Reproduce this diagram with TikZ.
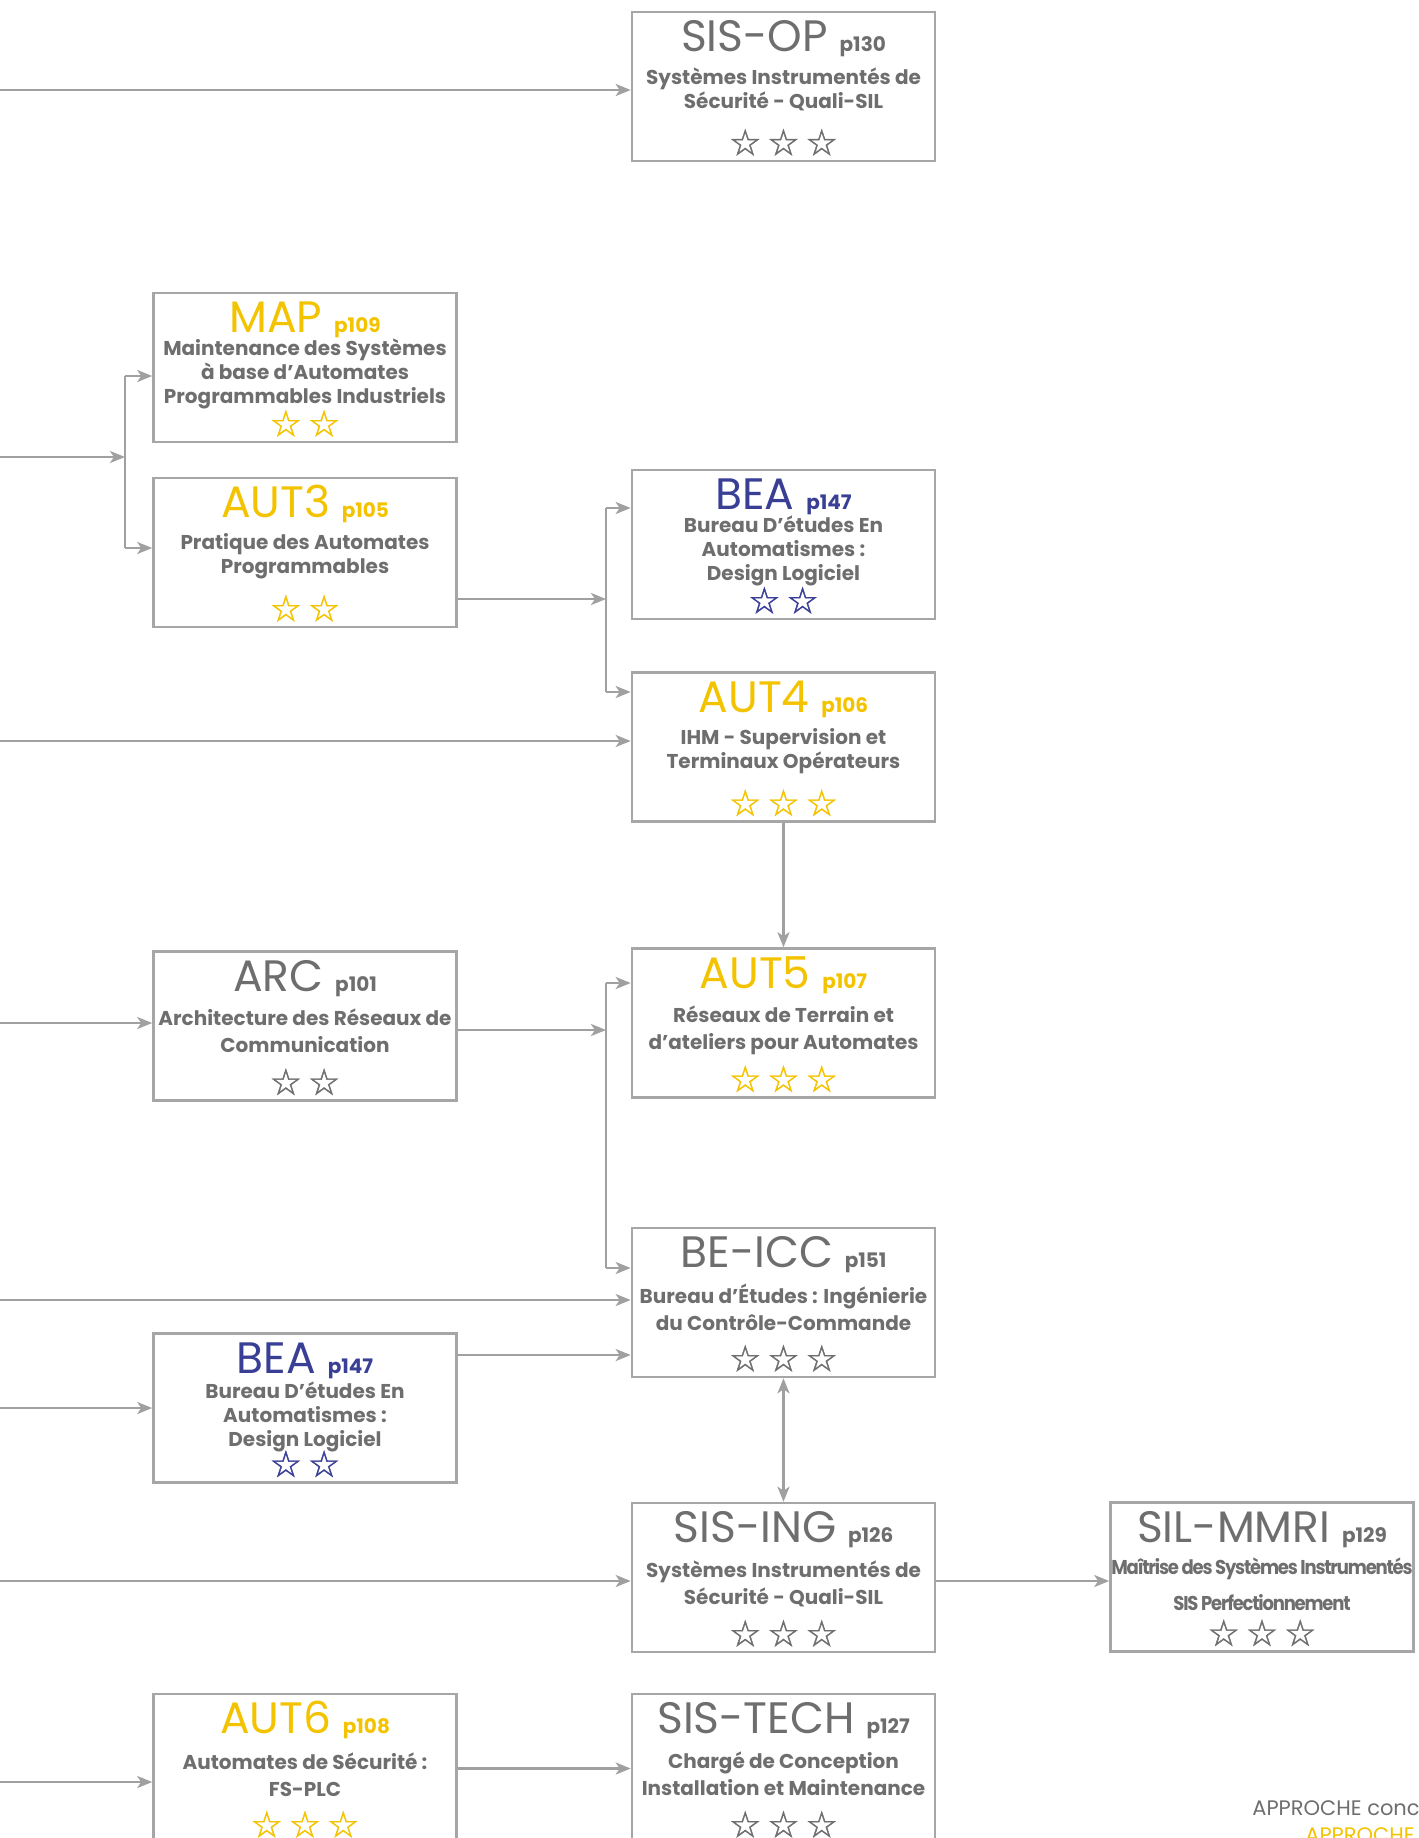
\documentclass[tikz,border=0pt]{standalone}
\usepackage{fontspec}
\setmainfont{Poppins}
\newfontfamily\symfont[FakeBold=1.2]{DejaVu Sans}
\usetikzlibrary{arrows.meta}

\definecolor{boxgray}{HTML}{A6A6A6}
\definecolor{txtgray}{HTML}{6E6E6E}
\definecolor{arrgray}{HTML}{A0A0A0}
\definecolor{formyellow}{HTML}{F4C300}
\definecolor{formblue}{HTML}{3A3F96}

\tikzset{
  box/.style={draw=boxgray, line width=1.3pt, minimum width=151.5pt, minimum height=74.5pt, inner sep=0pt},
  code/.style={font=\fontsize{22}{22}\selectfont, inner sep=0pt, anchor=base},
  desc/.style={font=\bfseries\fontsize{10}{12}\selectfont, text=txtgray, align=center, inner sep=0pt},
  starrow/.style={font=\symfont\fontsize{18}{18}\selectfont, inner sep=0pt},
  link/.style={draw=arrgray, line width=1.3pt},
  arr/.style={link, -{Stealth[length=7.5pt,width=6pt,inset=2pt]}},
  arrboth/.style={link, {Stealth[length=7.5pt,width=6pt,inset=2pt]}-{Stealth[length=7.5pt,width=6pt,inset=2pt]}},
}

\newcommand{\pg}[1]{{\bfseries\fontsize{10}{10}\selectfont #1}}
\newcommand{\twostars}{☆\hspace{3pt}☆}
\newcommand{\threestars}{☆\hspace{3pt}☆\hspace{3pt}☆}

% #1 name, #2 centre, #3 colour, #4 code, #5 page, #6 text, #7 stars, #8 shift of the text
\newcommand{\module}[8]{
  \node[box] (#1) at (#2) {};
  \node[code, text=#3] (#1-code) at ([shift={(0,41)}]#1.north) {#4 \pg{#5}};
  \node[desc] (#1-txt) at ([shift={(0,#8)}]#1.center) {#6};
  \node[starrow, text=#3] (#1-stars) at ([shift={(0,-20)}]#1.south) {#7};
}

\begin{document}
\begin{tikzpicture}[x=0.5pt, y=-0.5pt]
\useasboundingbox (0,0) rectangle (1419,1838);

% modules
\module{sisop}{783.5,86.5}{txtgray}{SIS-OP}{p130}{Systèmes Instrumentés de\\Sécurité - Quali-SIL}{\threestars}{2.5}
\module{map}{305,367.5}{formyellow}{MAP}{p109}{Maintenance des Systèmes\\à base d’Automates\\Programmables Industriels}{\twostars}{6.3}
\module{aut3}{305,552.5}{formyellow}{AUT3}{p105}{Pratique des Automates\\Programmables}{\twostars}{4}
\module{bea}{783.5,544.5}{formblue}{BEA}{p147}{Bureau D’études En\\Automatismes :\\Design Logiciel}{\twostars}{6.4}
\module{aut4}{783.5,747}{formyellow}{AUT4}{p106}{IHM - Supervision et\\Terminaux Opérateurs}{\threestars}{4.5}
\module{arc}{305,1026}{txtgray}{ARC}{p101}{Architecture des Réseaux de\\[1.5pt]Communication}{\twostars}{4.5}
\module{aut5}{783.5,1023}{formyellow}{AUT5}{p107}{Réseaux de Terrain et\\[1.5pt]d’ateliers pour Automates}{\threestars}{7.3}
\module{beicc}{783.5,1302.5}{txtgray}{BE-ICC}{p151}{Bureau d’Études : Ingénierie\\[1.5pt]du Contrôle-Commande}{\threestars}{4.4}
\module{beab}{305,1408}{formblue}{BEA}{p147}{Bureau D’études En\\Automatismes :\\Design Logiciel}{\twostars}{8.5}
\module{sising}{783.5,1577.5}{txtgray}{SIS-ING}{p126}{Systèmes Instrumentés de\\[1.5pt]Sécurité - Quali-SIL}{\threestars}{6.3}
\module{silmmri}{1262,1577}{txtgray}{SIL-MMRI}{p129}{\addfontfeatures{LetterSpace=-6,FakeStretch=0.9}Maîtrise des Systèmes Instrumentés\\[6pt]\addfontfeatures{LetterSpace=-6,FakeStretch=0.9}SIS Perfectionnement}{\threestars}{7.6}
\module{aut6}{305,1768.5}{formyellow}{AUT6}{p108}{Automates de Sécurité :\\[1.5pt]FS-PLC}{\threestars}{6.1}
\module{sistech}{783.5,1768.5}{txtgray}{SIS-TECH}{p127}{Chargé de Conception\\[1.5pt]Installation et Maintenance}{\threestars}{5.5}

% entries from the left edge
\coordinate (in-sisop) at (0,90);
\coordinate (in-map) at (0,457);
\coordinate (in-aut4) at (0,741);
\coordinate (in-arc) at (0,1023);
\coordinate (in-beicc) at (0,1300);
\coordinate (in-beab) at (0,1408);
\coordinate (in-sising) at (0,1581);
\coordinate (in-aut6) at (0,1782);

% forks
\coordinate (fork-map) at (125,457);
\coordinate (map-in) at (125,376);
\coordinate (aut3-in) at (125,548);
\coordinate (fork-bea) at (606,599);
\coordinate (bea-in) at (606,508);
\coordinate (aut4-in) at (606,692);
\coordinate (fork-arc) at (606,1030);
\coordinate (aut5-in) at (606,983);
\coordinate (beicc-in) at (606,1268);
\coordinate (beab-out) at (457,1355);

\draw[arr] (in-sisop) -- (in-sisop -| sisop.west);

\draw[arr] (in-map) -- (fork-map);
\draw[link] (map-in) -- (aut3-in);
\draw[arr] (map-in) -- (map-in -| map.west);
\draw[arr] (aut3-in) -- (aut3-in -| aut3.west);

\draw[arr] (fork-bea -| aut3.east) -- (fork-bea);
\draw[link] (bea-in) -- (aut4-in);
\draw[arr] (bea-in) -- (bea-in -| bea.west);
\draw[arr] (aut4-in) -- (aut4-in -| aut4.west);

\draw[arr] (in-aut4) -- (in-aut4 -| aut4.west);
\draw[arr] (aut4.south) -- (aut5.north);

\draw[arr] (in-arc) -- (in-arc -| arc.west);
\draw[arr] (fork-arc -| arc.east) -- (fork-arc);
\draw[link] (aut5-in) -- (beicc-in);
\draw[arr] (aut5-in) -- (aut5-in -| aut5.west);
\draw[arr] (beicc-in) -- (beicc-in -| beicc.west);

\draw[arr] (in-beicc) -- (in-beicc -| beicc.west);
\draw[arr] (beab-out) -- (beab-out -| beicc.west);
\draw[arr] (in-beab) -- (in-beab -| beab.west);
\draw[arrboth] (beicc.south) -- (sising.north);

\draw[arr] (in-sising) -- (in-sising -| sising.west);
\draw[arr] (in-sising -| sising.east) -- (in-sising -| silmmri.west);

\draw[arr] (in-aut6) -- (in-aut6 -| aut6.west);
\draw[arr] (aut6.east) -- (sistech.west);

% footer, cut by the page edge
\node[anchor=base west, inner sep=0pt, text=txtgray, font=\fontsize{10.5}{11}\selectfont] (approche) at (1252,1815) {APPROCHE conc};
\node[anchor=base west, inner sep=0pt, text=formyellow, font=\fontsize{10.5}{11}\selectfont] (approche-b) at (1305,1842) {APPROCHE};
\end{tikzpicture}
\end{document}
